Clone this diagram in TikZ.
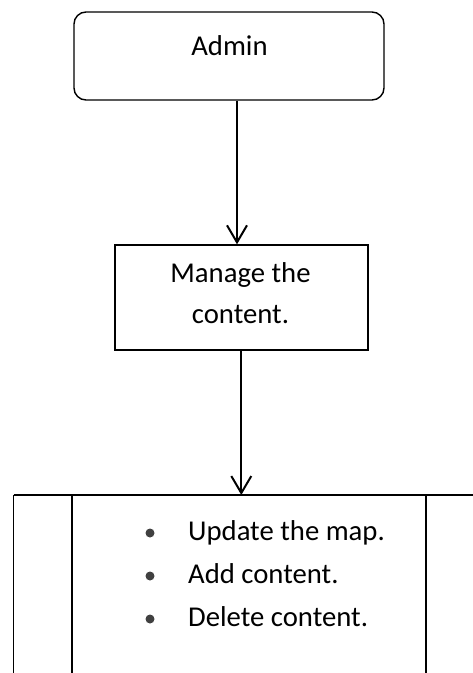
\documentclass[tikz,border=0pt]{standalone}
\usepackage{fontspec}
\setmainfont{Carlito}
\usetikzlibrary{arrows.meta}
\tikzset{
  boxline/.style={draw=black, line width=1.4pt},
  roundbox/.style={boxline, rounded corners=12pt, minimum width=310pt, minimum height=88pt, inner sep=0pt},
  plainbox/.style={boxline, minimum width=253pt, minimum height=105pt, inner sep=0pt},
  label/.style={anchor=base, inner sep=0pt, font=\fontsize{28.7}{34}\selectfont},
  flow/.style={line width=2pt, -{Straight Barb[length=17pt,width=20pt,line width=2pt]}},
  bulletdot/.style={circle, fill=black!75, inner sep=0pt, minimum size=9pt},
}
\begin{document}
\begin{tikzpicture}[x=1pt,y=-1pt]
\useasboundingbox (0,0) rectangle (473,673);
\clip (0,0) rectangle (473,673);

% top: role box
\node[roundbox] (admin) at (229,56) {};
\node[label] (admintxt) at (229.5,55) {Admin};

% middle: task box
\node[plainbox] (manage) at (241.3,297.5) {};
\node[label] (manage1) at (240.5,282) {Manage the};
\node[label] (manage2) at (240.5,323) {content.};

% bottom: table of actions, running past the page edge
\coordinate (tabtl) at (13.5,495);
\draw[boxline] (tabtl) -- (480,495);
\draw[boxline] (tabtl) -- (13.5,680);
\draw[boxline] (72,495) -- (72,680);
\draw[boxline] (426,495) -- (426,680);
\coordinate (tabtop) at (241.3,495);

% action list
\node[bulletdot] (b1) at (150,533) {};
\node[bulletdot] (b2) at (150,576) {};
\node[bulletdot] (b3) at (150,619) {};
\node[label, anchor=base west] (t1) at (188,540) {Update the map.};
\node[label, anchor=base west] (t2) at (188,583) {Add content.};
\node[label, anchor=base west] (t3) at (188,626) {Delete content.};

% connectors
\draw[flow] ([xshift=8pt]admin.south) -- ([xshift=8pt]admin.south |- manage.north);
\draw[flow] (manage.south) -- (tabtop);
\end{tikzpicture}
\end{document}
